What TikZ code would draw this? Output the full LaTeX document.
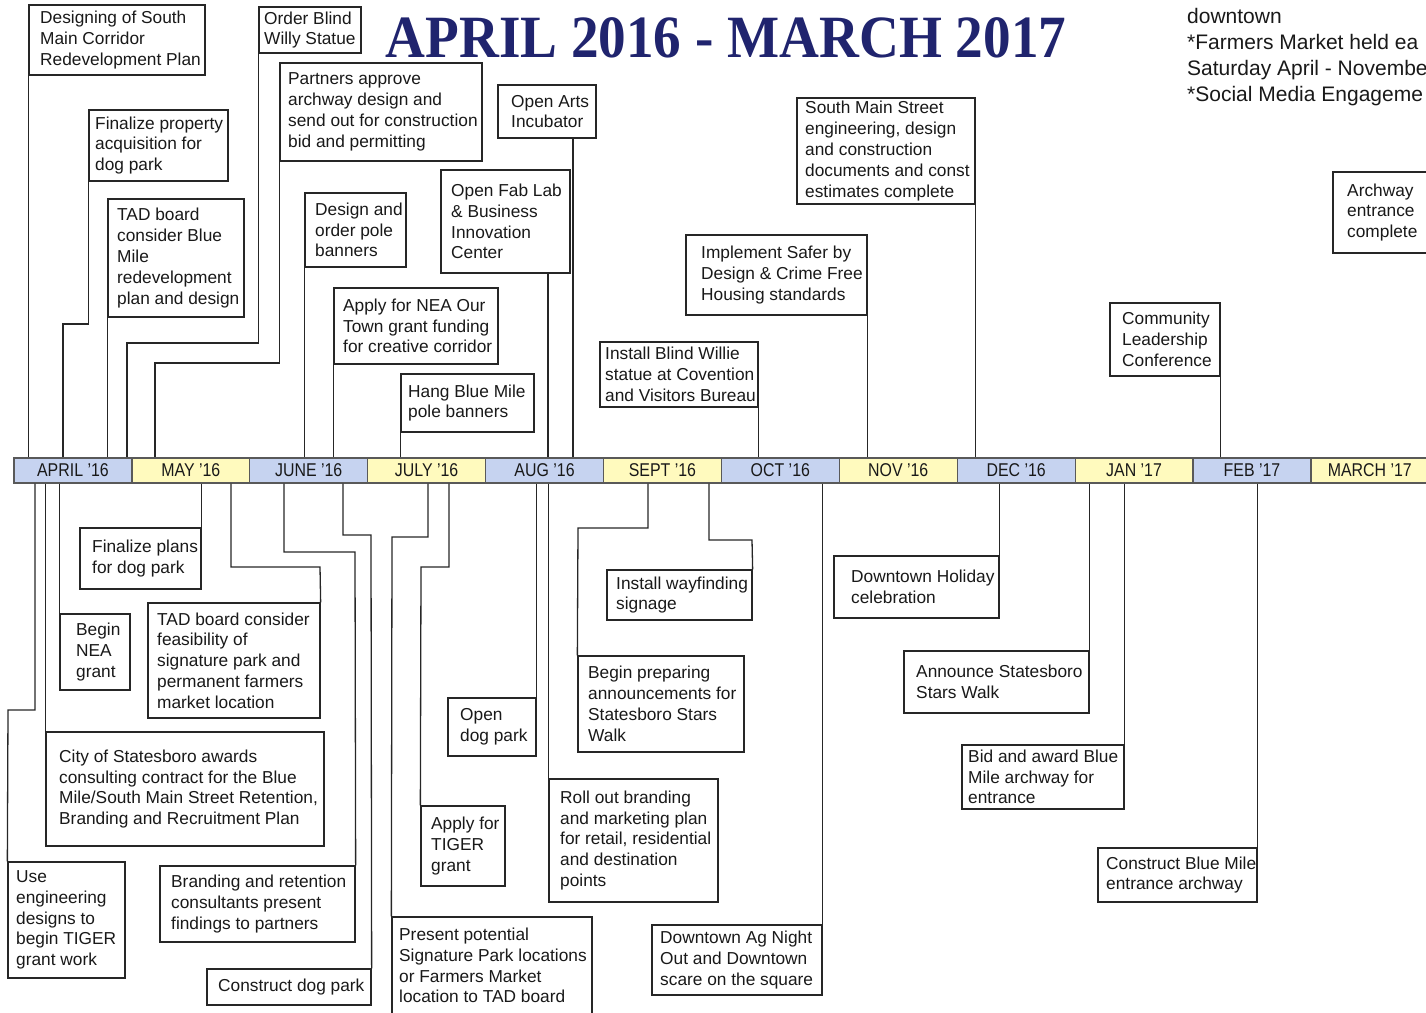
\documentclass[tikz,border=0pt]{standalone}
\usepackage{fontspec}
\setmainfont{Liberation Sans}
\newfontfamily\titlefont{Liberation Serif}
\usepackage{graphicx}
\definecolor{mblue}{RGB}{198,211,240}
\definecolor{myel}{RGB}{255,250,190}
\definecolor{navyt}{RGB}{32,36,110}
\tikzset{
  evb/.style={draw=black!85, line width=1.3pt, fill=white, rectangle, inner sep=0pt},
  evt/.style={font=\fontsize{17.3}{20.8}\selectfont, align=left, inner sep=0pt, text=black!90},
  mon/.style={draw=black!65, line width=1.2pt, minimum width=117.9pt, minimum height=25pt, inner sep=0pt, font=\fontsize{18.5}{20}\selectfont, text=black!90},
  conn/.style={draw=black!85, line width=1.3pt},
  note/.style={font=\fontsize{21}{26}\selectfont, inner sep=0pt, anchor=base west, text=black!90},
}
% #1 name, #2 x1, #3 y1, #4 x2, #5 y2, #6 pad, #7 text
\newcommand{\evbox}[7]{%
  \node[evb, minimum width={(#4-#2)*1pt}, minimum height={(#5-#3)*1pt}] (#1) at ({(#2+#4)/2},{(#3+#5)/2}) {};
  \node[evt, anchor=west] (#1-t) at ({#2+#6},{(#3+#5)/2}) {#7};
}
\begin{document}
\begin{tikzpicture}[x=1pt,y=-1pt]
\useasboundingbox (0,0) rectangle (1426,1012);
\clip (0,0) rectangle (1426,1012);

% title
\node[anchor=base, text=navyt, inner sep=0pt] (title) at (726,57)
  {\titlefont\bfseries\fontsize{60}{60}\selectfont\scalebox{0.92}[1]{APRIL 2016 - MARCH 2017}};

% notes top right (cut at the edge in the source)
\node[note] (n1) at (1187,23) {downtown};
\node[note] (n2) at (1187,49) {*Farmers Market held ea};
\node[note] (n3) at (1187,75) {Saturday April - Novembe};
\node[note] (n4) at (1187,101) {*Social Media Engageme};

% month bar
\foreach \i/\nm/\lab/\col in {0/apr/APRIL '16/mblue,1/may/MAY '16/myel,2/jun/JUNE '16/mblue,3/jul/JULY '16/myel,
  4/aug/AUG '16/mblue,5/sep/SEPT '16/myel,6/oct/OCT '16/mblue,7/nov/NOV '16/myel,8/dec/DEC '16/mblue,
  9/jan/JAN '17/myel,10/feb/FEB '17/mblue,11/mar/MARCH '17/myel}{
  \node[mon, fill=\col] (\nm) at ({14+117.9*\i+58.95},470.5) {\scalebox{0.86}[1]{\lab}};
}

% top boxes
\evbox{des}{29}{5}{205}{75}{11}{Designing of South\\Main Corridor\\Redevelopment Plan}
\evbox{fpa}{89}{110}{228}{181}{6}{Finalize property\\acquisition for\\dog park}
\evbox{tadb}{108}{199}{244}{317}{9}{TAD board\\consider Blue\\Mile\\redevelopment\\plan and design}
\evbox{obw}{259}{7}{361}{53}{5}{Order Blind\\Willy Statue}
\evbox{pa}{280}{63}{482}{161}{8}{Partners approve\\archway design and\\send out for construction\\bid and permitting}
\evbox{oai}{498}{85}{596}{138}{13}{Open Arts\\Incubator}
\evbox{dop}{305}{193}{406}{267}{10}{Design and\\order pole\\banners}
\evbox{fab}{441}{170}{570}{273}{10}{Open Fab Lab\\\& Business\\Innovation\\Center}
\evbox{nea}{334}{288}{498}{364}{9}{Apply for NEA Our\\Town grant funding\\for creative corridor}
\evbox{hbm}{401}{374}{534}{432}{7}{Hang Blue Mile\\pole banners}
\evbox{ibw}{600}{342}{758}{407}{5}{Install Blind Willie\\statue at Covention\\and Visitors Bureau}
\evbox{isd}{686}{235}{867}{315}{15}{Implement Safer by\\Design \& Crime Free\\Housing standards}
\evbox{sms}{797}{98}{975}{204}{8}{South Main Street\\engineering, design\\and construction\\documents and const\\estimates complete}
\evbox{clc}{1110}{303}{1220}{376}{12}{Community\\Leadership\\Conference}
\evbox{arc}{1333}{172}{1440}{253}{14}{Archway\\entrance\\complete}

% bottom boxes
\evbox{uet}{8}{862}{125}{978}{8}{Use\\engineering\\designs to\\begin TIGER\\grant work}
\evbox{bng}{60}{614}{130}{690}{16}{Begin\\NEA\\grant}
\evbox{csa}{46}{732}{324}{846}{13}{City of Statesboro awards\\consulting contract for the Blue\\Mile/South Main Street Retention,\\Branding and Recruitment Plan}
\evbox{fpd}{80}{528}{201}{589}{12}{Finalize plans\\for dog park}
\evbox{tfs}{148}{603}{320}{718}{9}{TAD board consider\\feasibility of\\signature park and\\permanent farmers\\market location}
\evbox{brc}{160}{866}{355}{942}{11}{Branding and retention\\consultants present\\findings to partners}
\evbox{cdp}{207}{969}{371}{1005}{11}{Construct dog park}
\evbox{psp}{392}{917}{592}{1014}{7}{Present potential\\Signature Park locations\\or Farmers Market\\location to TAD board}
\evbox{odp}{448}{698}{536}{756}{12}{Open\\dog park}
\evbox{atg}{421}{806}{505}{886}{10}{Apply for\\TIGER\\grant}
\evbox{rob}{549}{779}{718}{902}{11}{Roll out branding\\and marketing plan\\for retail, residential\\and destination\\points}
\evbox{bpa}{578}{656}{744}{752}{10}{Begin preparing\\announcements for\\Statesboro Stars\\Walk}
\evbox{iws}{607}{570}{752}{620}{9}{Install wayfinding\\signage}
\evbox{ago}{652}{925}{822}{995}{8}{Downtown Ag Night\\Out and Downtown\\scare on the square}
\evbox{dhc}{834}{556}{999}{618}{17}{Downtown Holiday\\celebration}
\evbox{ass}{904}{651}{1089}{713}{12}{Announce Statesboro\\Stars Walk}
\evbox{baw}{962}{745}{1124}{809}{6}{Bid and award Blue\\Mile archway for\\entrance}
\evbox{cbm}{1098}{848}{1257}{902}{8}{Construct Blue Mile\\entrance archway}

% top connectors
\draw[conn] (des.south west) -- (des.south west |- apr.north);
\draw[conn] (fpa.south west) |- (63,324) -- (63,0 |- apr.north);
\draw[conn] (tadb.south west) -- (tadb.south west |- apr.north);
\draw[conn] (obw.south west) |- (127,343) -- (127,0 |- apr.north);
\draw[conn] (pa.south west) |- (155,363) -- (155,0 |- may.north);
\draw[conn] (dop.south west) -- (dop.south west |- jun.north);
\draw[conn] (nea.south west) -- (nea.south west |- jun.north);
\draw[conn] (hbm.south west) -- (hbm.south west |- jul.north);
\draw[conn] (548,0 |- fab.south) -- (548,0 |- aug.north);
\draw[conn] (573,0 |- oai.south) -- (573,0 |- aug.north);
\draw[conn] (ibw.south east) -- (ibw.south east |- oct.north);
\draw[conn] (isd.south east) -- (isd.south east |- nov.north);
\draw[conn] (sms.south east) -- (sms.south east |- dec.north);
\draw[conn] (clc.south east) -- (clc.south east |- feb.north);

% bottom connectors
\draw[conn] (35,0 |- apr.south) |- (8,710) -- (uet.north west);
\draw[conn] (csa.north west |- apr.south) -- (csa.north west);
\draw[conn] (bng.north west |- apr.south) -- (bng.north west);
\draw[conn] (fpd.north east |- may.south) -- (fpd.north east);
\draw[conn] (231,0 |- may.south) |- (320,567) -- (tfs.north east);
\draw[conn] (284,0 |- jun.south) |- (355,552) -- (brc.north east);
\draw[conn] (343,0 |- jun.south) |- (371,535) -- (cdp.north east);
\draw[conn] (428,0 |- jul.south) |- (392,537) -- (psp.north west);
\draw[conn] (449,0 |- jul.south) |- (421,567) -- (atg.north west);
\draw[conn] (odp.north east |- aug.south) -- (odp.north east);
\draw[conn] (rob.north west |- aug.south) -- (rob.north west);
\draw[conn] (648,0 |- sep.south) |- (578,528) -- (bpa.north west);
\draw[conn] (709,0 |- sep.south) |- (752,540) -- (iws.north east);
\draw[conn] (ago.north east |- oct.south) -- (ago.north east);
\draw[conn] (dhc.north east |- dec.south) -- (dhc.north east);
\draw[conn] (ass.north east |- jan.south) -- (ass.north east);
\draw[conn] (baw.north east |- jan.south) -- (baw.north east);
\draw[conn] (cbm.north east |- feb.south) -- (cbm.north east);
\end{tikzpicture}
\end{document}
